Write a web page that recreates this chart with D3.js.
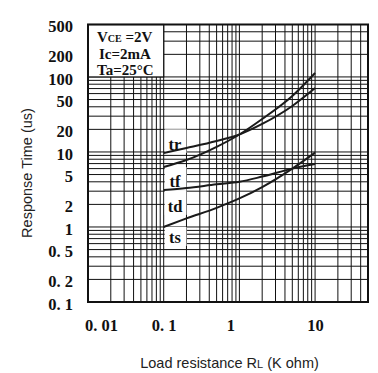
<!DOCTYPE html>
<html>
<head>
<meta charset="utf-8">
<script src="https://cdn.jsdelivr.net/npm/d3@7/dist/d3.min.js"></script>
<style>
  body { margin: 0; background: #fff; }
  svg { display: block; }
</style>
</head>
<body>
<div id="chart"></div>
<script>
// load resistance (K ohm) and response times (us)
const loadRes = [0.1, 0.2, 0.5, 1, 2, 5, 10];
const trValues = [9.7, 11.3, 14.0, 17.1, 23.6, 41, 71];
const tfValues = [6.3, 7.8, 11.7, 17.1, 27.5, 55.8, 113];
const tdValues = [3.1, 3.3, 3.7, 4.0, 4.7, 6.0, 6.9];
const tsValues = [1.0, 1.3, 1.8, 2.4, 3.4, 6.0, 9.8];

const xTicks = [0.01, 0.1, 1, 10];
const xTickLabels = ["0. 01", "0. 1", "1", "10"];
const yTicks = [500, 200, 100, 50, 20, 10, 5, 2, 1, 0.5, 0.2, 0.1];
const yTickLabels = ["500", "200", "100", "50", "20", "10", "5", "2", "1", "0. 5", "0. 2", "0. 1"];

// label boxes sit between x=0.1 and x=0.2, between these response times
const curveNames = ["tr", "tf", "td", "ts"];
const labelTop = [20, 6.3, 3.1, 1.0];
const labelBottom = [9.7, 3.1, 1.45, 0.56];

const conditions = ["Vce", "Ic=2mA", "Ta=25°C"];

let config = {
    div: '#chart',
    width: 378,
    height: 373,
    left: 88,
    right: 368,
    top: 24.5,
    bottom: 302
};

const serif = "'Liberation Serif', 'DejaVu Serif', serif";
const sans = "'Liberation Sans', Arial, sans-serif";

let svg = d3.select(config.div)
    .append("svg")
    .attr("width", config.width)
    .attr("height", config.height);

let x = d3.scaleLog().domain([0.01, 50]).range([config.left, config.right]);
let y = d3.scaleLog().domain([0.1, 500]).range([config.bottom, config.top]);

// grid
let grid = svg.append("g").attr("stroke", "#111").attr("stroke-width", 1);
grid.selectAll("line.v")
    .data(x.ticks())
    .join("line")
    .attr("class", "v")
    .attr("x1", d => x(d)).attr("x2", d => x(d))
    .attr("y1", config.top).attr("y2", config.bottom);
grid.selectAll("line.h")
    .data(y.ticks())
    .join("line")
    .attr("class", "h")
    .attr("x1", config.left).attr("x2", config.right)
    .attr("y1", d => y(d)).attr("y2", d => y(d));

// white boxes behind the curve names
svg.append("g")
    .selectAll("rect")
    .data(curveNames)
    .join("rect")
    .attr("x", x(0.1) + 1)
    .attr("width", x(0.2) - x(0.1) - 1)
    .attr("y", (d, i) => y(labelTop[i]))
    .attr("height", (d, i) => y(labelBottom[i]) - y(labelTop[i]))
    .attr("fill", "#fff");

// conditions box, upper left corner
svg.append("rect")
    .attr("x", x(0.01))
    .attr("y", y(500))
    .attr("width", x(0.1) - x(0.01))
    .attr("height", y(100) - y(500))
    .attr("fill", "#fff")
    .attr("stroke", "#111")
    .attr("stroke-width", 1.2);

let cond = svg.append("g")
    .attr("font-family", serif)
    .attr("font-weight", "bold")
    .attr("font-size", 15)
    .attr("fill", "#111");
let vce = cond.append("text").attr("x", 97).attr("y", 42);
vce.append("tspan").text("V");
vce.append("tspan").attr("font-size", 10).text("CE");
vce.append("tspan").text(" =2V");
cond.append("text").attr("x", 99).attr("y", 58.5).text(conditions[1]);
cond.append("text").attr("x", 97).attr("y", 74.5).text(conditions[2]);

// curves
let line = d3.line()
    .x(d => x(d[0]))
    .y(d => y(d[1]))
    .curve(d3.curveMonotoneX);
let series = [trValues, tfValues, tdValues, tsValues];
svg.append("g")
    .attr("fill", "none")
    .attr("stroke", "#1a1a1a")
    .attr("stroke-width", 2)
    .selectAll("path")
    .data(series)
    .join("path")
    .attr("d", d => line(loadRes.map((r, i) => [r, d[i]])));

// curve names
svg.append("g")
    .attr("font-family", serif)
    .attr("font-weight", "bold")
    .attr("font-size", 16.5)
    .attr("fill", "#111")
    .attr("text-anchor", "middle")
    .selectAll("text")
    .data(curveNames)
    .join("text")
    .attr("x", x(0.141))
    .attr("y", (d, i) => y(labelBottom[i]) - 3)
    .text(d => d);

// frame
svg.append("rect")
    .attr("x", config.left)
    .attr("y", config.top)
    .attr("width", config.right - config.left)
    .attr("height", config.bottom - config.top)
    .attr("fill", "none")
    .attr("stroke", "#111")
    .attr("stroke-width", 2);

// axes
let xLabelShift = {0.01: 13, 1: -9};
let xAxis = svg.append("g")
    .attr("transform", `translate(0,${config.bottom})`)
    .call(d3.axisBottom(x).tickValues(xTicks)
        .tickFormat((d, i) => xTickLabels[i]).tickSize(0).tickPadding(17));
xAxis.select(".domain").remove();
xAxis.selectAll("text")
    .attr("dx", d => xLabelShift[d] || 0)
    .attr("font-family", serif)
    .attr("font-weight", "bold")
    .attr("font-size", 16.5)
    .attr("fill", "#111");

let yAxis = svg.append("g")
    .attr("transform", `translate(${config.left},0)`)
    .call(d3.axisLeft(y).tickValues(yTicks)
        .tickFormat((d, i) => yTickLabels[i]).tickSize(0).tickPadding(15));
yAxis.select(".domain").remove();
yAxis.selectAll("text")
    .attr("y", 2)
    .attr("font-family", serif)
    .attr("font-weight", "bold")
    .attr("font-size", 16.5)
    .attr("fill", "#111");

// axis titles
let xTitle = svg.append("text")
    .attr("x", 229.5)
    .attr("y", 368)
    .attr("text-anchor", "middle")
    .attr("font-family", sans)
    .attr("font-size", 14.5)
    .attr("fill", "#222");
xTitle.append("tspan").text("Load resistance R");
xTitle.append("tspan").attr("font-size", 11).text("L");
xTitle.append("tspan").text(" (K ohm)");

svg.append("text")
    .attr("transform", "translate(32,173) rotate(-90)")
    .attr("text-anchor", "middle")
    .attr("font-family", sans)
    .attr("font-size", 14.5)
    .attr("fill", "#222")
    .text("Response Time (us)");
</script>
</body>
</html>
